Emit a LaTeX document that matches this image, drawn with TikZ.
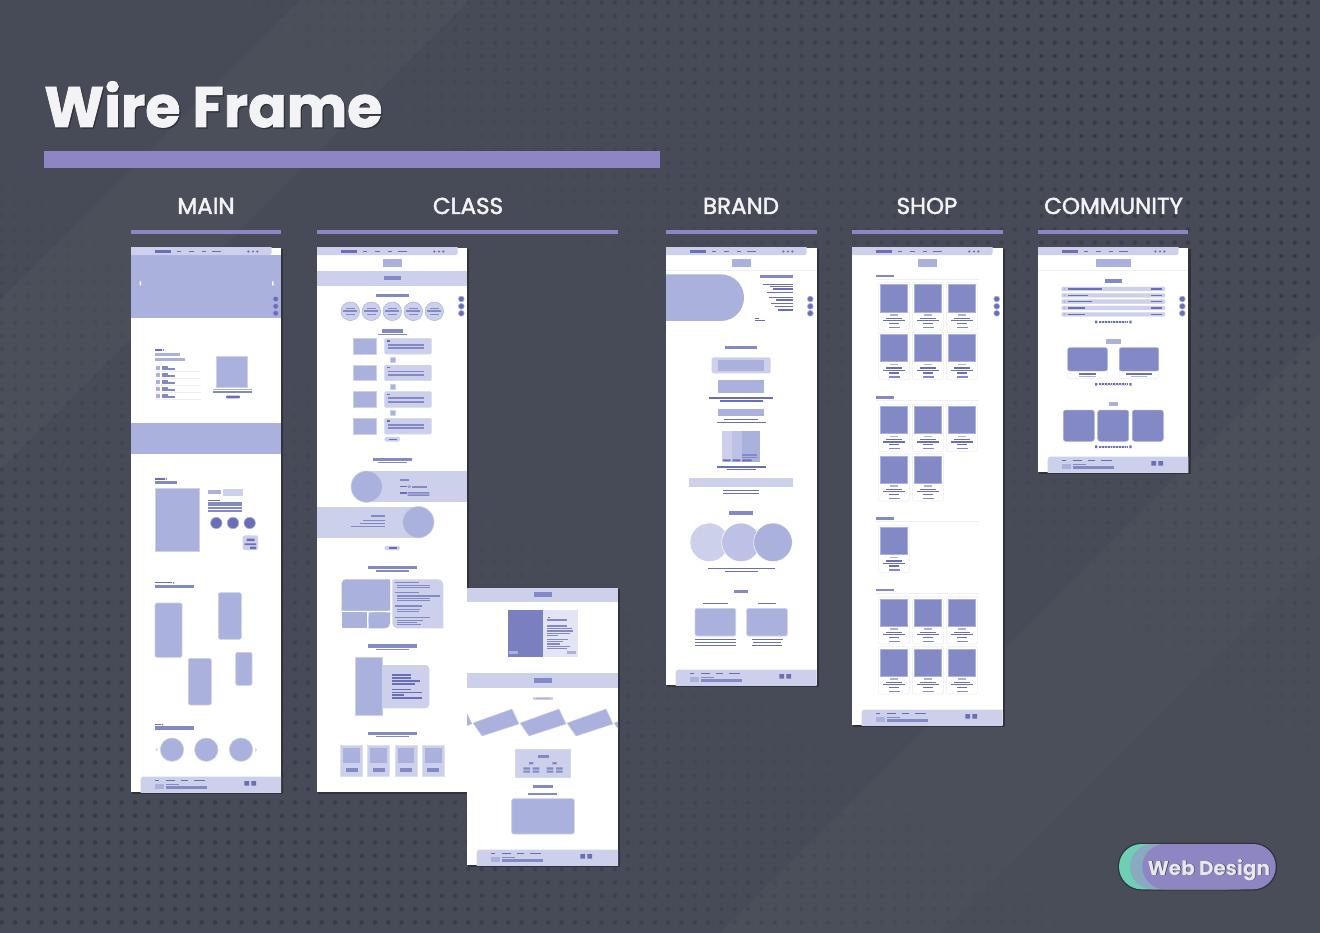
\documentclass[tikz,border=0pt]{standalone}
\usepackage{fontspec}
\setmainfont{Poppins}
\newfontfamily\labelfont[FakeBold=2]{Poppins}
\newfontfamily\headfont[BoldFeatures={FakeBold=1.5}]{Poppins}
\usetikzlibrary{calc}

\definecolor{bgc}{HTML}{474B57}
\definecolor{dotc}{HTML}{363943}
\definecolor{shadowc}{HTML}{30333B}
\definecolor{accent}{HTML}{8E86C2}
\definecolor{lavA}{HTML}{CDD0EA}
\definecolor{lavAB}{HTML}{BCC1E5}
\definecolor{lavB}{HTML}{AAB1DC}
\definecolor{lavC}{HTML}{8389C5}
\definecolor{lavD}{HTML}{7A7FBF}
\definecolor{ink}{HTML}{6A6FB5}
\definecolor{paleP}{HTML}{E3E5F4}
\definecolor{faint}{HTML}{ECEEF8}
\definecolor{titlec}{HTML}{F3F3F5}
\definecolor{teal}{HTML}{6FCFB4}
\definecolor{tealmix}{HTML}{88ABC2}
\definecolor{badgetext}{HTML}{E8E6EE}

% thin text bar: [colour]{x from}{x to}{y centre}
\newcommand{\hb}[4][ink]{\fill[#1] (#2,#4-0.65) rectangle (#3,#4+0.65);}

% page sheet with drop shadow: left top right bottom
\newcommand{\wfpage}[4]{%
  \fill[shadowc] (#1+1.2,#2+1.2) rectangle (#3+2.4,#4+2.4);
  \fill[white] (#1,#2) rectangle (#3,#4);
}

% navigation bar at the top of a page: left x
\newcommand{\wfnav}[1]{%
  \fill[lavA,rounded corners=2.5pt] (#1-6,242) rectangle (#1+140.7,255.2);
  \fill[ink] (#1+24,250) rectangle (#1+40,253);
  \hb{#1+45.7}{#1+50}{251.5}
  \hb{#1+58.3}{#1+62.7}{251.5}
  \hb{#1+71}{#1+75.3}{251.5}
  \hb{#1+81}{#1+89.7}{251.5}
  \fill[ink] (#1+117.3,251.5) circle (1.2) (#1+122,251.5) circle (1.2) (#1+126.3,251.5) circle (1.2);
}

% floating quick-menu dots: centre x
\newcommand{\wfside}[1]{%
  \foreach \yy in {299,306.3,313.3}{\fill[ink,draw=lavB,line width=0.6pt] (#1,\yy) circle (2.9);}
}

% footer block: left x, right x, bottom y
\newcommand{\wffoot}[3]{%
  \fill[lavA,rounded corners=3pt] (#1+9.7,#3-15.5) rectangle (#2+6,#3+6);
  \hb{#1+24}{#1+28.3}{#3-11.3}
  \hb{#1+35}{#1+44}{#3-11.3}
  \hb{#1+50}{#1+57}{#3-11.3}
  \hb{#1+63.3}{#1+73.7}{#3-11.3}
  \fill[lavB] (#1+24,#3-8.3) rectangle (#1+32.7,#3-3);
  \hb[lavC]{#1+35}{#1+48.3}{#3-7.3}
  \fill[lavC] (#1+35,#3-5.7) rectangle (#1+75.7,#3-3.5);
  \fill[ink] (#1+113.3,#3-11) rectangle (#1+118,#3-6.3) (#1+120.3,#3-11) rectangle (#1+125,#3-6.3);
}

% product card of the shop page: left x, top y
\newcommand{\shopcard}[2]{%
  \draw[faint,fill=white,line width=0.6pt,rounded corners=1.5pt] (#1,#2) rectangle (#1+31.3,#2+47.3);
  \fill[lavC,draw=lavB,line width=0.4pt] (#1+2,#2+2) rectangle (#1+29.3,#2+29.3);
  \hb[lavB]{#1+11.7}{#1+20}{#2+32.3}
  \fill[ink] (#1+8,#2+34.9) rectangle (#1+24,#2+36.3);
  \hb{#1+5}{#1+26.7}{#2+37.9}
  \fill[ink] (#1+10.7,#2+40) rectangle (#1+20.7,#2+41.4);
  \hb[lavC]{#1+10.7}{#1+21.7}{#2+44.7}
}

% category heading of the shop page: top y
\newcommand{\shoplabel}[1]{%
  \fill[lavC] (875.7,#1) rectangle (894.3,#1+2.4);
  \fill[faint] (875.7,#1+3.6) rectangle (979.3,#1+4.2);
}

% pagination strip of the community page: centre y
\newcommand{\pager}[1]{%
  \fill[ink] (1095,#1-1.3) rectangle (1097.4,#1+1.3) (1129.3,#1-1.3) rectangle (1131.7,#1+1.3);
  \fill[ink] (1099,#1-1.1) rectangle (1128,#1+1.1);
  \foreach \k in {0,...,9}{\fill[lavA] (1101.2+\k*2.8,#1-1.2) rectangle (1101.8+\k*2.8,#1+1.2);}
}

\begin{document}
\begin{tikzpicture}[x=1pt,y=-1pt]
\useasboundingbox (0,0) rectangle (1320,933);

% ---------- backdrop ----------
\fill[bgc] (0,0) rectangle (1320,933);
\foreach \i in {0,...,98}{
  \foreach \j in {0,...,69}{
    \pgfmathsetmacro\op{min(0.85,max(0,abs(\i/98-\j/69)*1.5-0.22))}
    \ifdim\op pt>0.03pt
      \fill[dotc,opacity=\op] (1.7+\i*13.33,2.7+\j*13.33) circle (2.3);
    \fi
  }
}
\fill[white,opacity=0.022] (0,300) -- (300,0) -- (470,0) -- (0,470) -- cycle;
\fill[white,opacity=0.022] (720,933) -- (1320,333) -- (1320,555) -- (942,933) -- cycle;
\fill[white,opacity=0.012] (942,933) -- (1320,555) -- (1320,933) -- cycle;

% ---------- heading ----------
\node[anchor=base west,inner sep=0pt,font=\headfont\bfseries\fontsize{57}{57}\selectfont,text=shadowc]
  (titleshadow) at (45.3,128.3) {Wire Frame};
\node[anchor=base west,inner sep=0pt,font=\headfont\bfseries\fontsize{57}{57}\selectfont,text=titlec]
  (title) at (44,127) {Wire Frame};
\fill[accent] (44,151) rectangle (660,168);

\tikzset{seclabel/.style={anchor=base,inner sep=0pt,font=\labelfont\fontsize{23}{23}\selectfont,text=titlec}}
\node[seclabel] (lmain) at (206,214) {MAIN};
\node[seclabel] (lclass) at (468,214) {CLASS};
\node[seclabel] (lbrand) at (741,214) {BRAND};
\node[seclabel] (lshop) at (927,214) {SHOP};
\node[seclabel] (lcomm) at (1113.5,214) {COMMUNITY};
\fill[accent] (131,230) rectangle (281,234.3);
\fill[accent] (317,230) rectangle (618,234.3);
\fill[accent] (666,230) rectangle (816.5,234.3);
\fill[accent] (852,230) rectangle (1002.5,234.3);
\fill[accent] (1038,230) rectangle (1188.3,234.3);

% ================= MAIN =================
\wfpage{131}{248}{281}{792}
\begin{scope}
\clip (131,248) rectangle (281,792);
\fill[lavB] (131,255) rectangle (281,318.3);
\wfnav{131}
\fill[white] (139.5,281.3) rectangle (141.2,285.3) (272,281.3) rectangle (273.7,285.3);
\wfside{275.7}
\hb{155}{162}{350}
\fill[ink] (163.4,350) circle (0.9);
\fill[lavB] (155,352.7) rectangle (180,355.7);
\fill[lavB] (155,357.7) rectangle (185,360.7);
\foreach \yy in {368,375,382,389,396}{
  \fill[lavB] (156,\yy-1.8) rectangle (159.5,\yy+1.7);
  \hb[lavC]{162}{168}{\yy-1}
  \hb[lavC]{162}{175}{\yy+1}
  \fill[faint] (155,\yy+3.2) rectangle (201,\yy+3.7);
}
\fill[lavB,draw=lavA,line width=0.6pt] (216,356) rectangle (247.3,387);
\fill[lavB] (213,389) rectangle (252,390.3);
\fill[lavC] (213,391) rectangle (252,392.5);
\fill[ink,rounded corners=1pt] (226,395.7) rectangle (240,398.3);
\fill[lavB] (131,423.3) rectangle (281,454.3);
\hb{155}{165}{479}
\fill[ink] (166.3,479) circle (0.9);
\fill[lavC] (155,481.3) rectangle (177.3,484.3);
\fill[lavB,draw=lavA,line width=0.6pt] (155,488.3) rectangle (199.3,551);
\fill[lavB] (208,490) rectangle (220.7,494.3);
\fill[lavA] (223,488.7) rectangle (243.3,495.7);
\hb{208}{220}{500.2}
\foreach \yy in {502.6,505.3,508,510.7}{\fill[lavC] (208,\yy-0.9) rectangle (242.3,\yy+0.9);}
\foreach \xx in {216.3,233,249.7}{\fill[ink,draw=lavB,line width=0.6pt] (\xx,523) circle (5.7);}
\fill[lavA,rounded corners=1.5pt] (242.7,535.3) rectangle (258,550);
\fill[ink] (246.7,538.7) rectangle (254.7,541) (244.7,543.3) rectangle (256,545) (250,546.7) rectangle (256,549);
\hb{155}{172.3}{582.8}
\fill[ink] (173.6,582.8) circle (0.9);
\fill[lavC] (155,585) rectangle (193.7,588.3);
\foreach \a/\b/\c/\d in {155/603/182/657.3, 218.3/592.7/241.3/639.3, 188.3/658.3/211.3/705, 235.7/652.3/252/685.3}
  {\fill[lavB,draw=lavA,line width=0.6pt,rounded corners=2pt] (\a,\b) rectangle (\c,\d);}
\hb{155}{161}{724.5}
\fill[ink] (162.4,724.5) circle (0.9);
\fill[lavC] (155,726.3) rectangle (193.7,729.7);
\foreach \xx in {172,206.3,241}{\fill[lavB,draw=lavA,line width=0.6pt] (\xx,749.7) circle (11.7);}
\fill[lavA] (157.3,747.7) -- (155.6,749.7) -- (157.3,751.7) -- cycle;
\fill[lavA] (255.3,747.7) -- (257,749.7) -- (255.3,751.7) -- cycle;
\wffoot{131}{281}{792}
\end{scope}

% ================= CLASS (sheet 1) =================
\wfpage{317}{248}{467}{792}
\begin{scope}
\clip (317,248) rectangle (467,792);
\wfnav{317}
\fill[lavB] (382.7,259.3) rectangle (402,266.7);
\fill[lavA] (317,270.7) rectangle (467,285.7);
\fill[lavC] (384,276.3) rectangle (400.7,279.7);
\fill[lavC] (376,294) rectangle (409,297.3);
\foreach \xx in {350.3,371.3,392.3,413.3,434.3}{
  \fill[lavA,draw=lavB,line width=0.5pt] (\xx,311.3) circle (9.3);
  \hb[lavC]{\xx-4.3}{\xx+4.3}{308.2}
  \fill[lavC] (\xx-7,310.5) rectangle (\xx+7,312.2);
  \hb[lavC]{\xx-4.3}{\xx+4.3}{314.8}
}
\wfside{461.3}
\fill[lavC] (381.7,329.3) rectangle (403.3,333.3);
\fill[lavC] (378.3,334.2) rectangle (406.7,335.3);
\foreach \yy in {338.3,365,391.7,418.3}{
  \fill[lavB,draw=lavA,line width=0.5pt] (353.3,\yy) rectangle (376.3,\yy+15.7);
  \fill[lavA,draw=lavB!50,line width=0.5pt,rounded corners=1pt] (384.7,\yy) rectangle (431.3,\yy+15.7);
  \hb{386.7}{390}{\yy+2.7}
  \fill[lavC] (388,\yy+5.5) rectangle (424,\yy+7.3);
  \fill[lavC] (388,\yy+9) rectangle (424,\yy+10.8);
}
\foreach \yy in {357,383.7,410.3}{\fill[lavB,draw=lavA,line width=0.4pt] (390,\yy) rectangle (395,\yy+5);}
\fill[lavA,draw=lavB!50,line width=0.4pt,rounded corners=2pt] (384.7,437) rectangle (400,441.3);
\hb{388.5}{396.5}{439.2}
\fill[lavC] (373.3,458) rectangle (411.7,461.3);
\fill[lavC] (378.3,462) rectangle (406.7,463.3);
% banner with portrait on the left
\fill[lavA] (366.7,471) rectangle (467,502.3);
\fill[lavB,draw=lavA,line width=0.6pt] (366.7,486.7) circle (15.7);
\fill[lavC] (400,479.3) rectangle (409.3,480.7);
\hb{400}{406.7}{486.7}
\fill[lavB,draw=lavC,line width=0.3pt] (409.3,486.7) circle (1.4);
\fill[lavC] (412,485.8) rectangle (426.7,487.6);
\hb{400}{406.7}{493}
\fill[lavC] (407.7,492) rectangle (429.3,493.6) (407.7,494.3) rectangle (429.3,495.9);
% banner with portrait on the right
\fill[lavA] (317,506.7) rectangle (418.3,537.7);
\fill[lavB,draw=lavA,line width=0.6pt] (418.3,522.2) circle (15.7);
\fill[lavC] (370.7,514.7) rectangle (384.7,517);
\hb[lavC]{362.7}{384.7}{520.8}
\hb[lavC]{360}{384.7}{523.8}
\hb[lavC]{350.7}{384.7}{526.5}
\fill[lavA,draw=lavB!50,line width=0.4pt,rounded corners=2pt] (384.7,546) rectangle (400,550);
\hb{388.5}{396.5}{548}
\fill[lavC] (368.3,566) rectangle (416.7,569.3);
\fill[lavC] (376,570.2) rectangle (409,571.7);
% image grid and text panel
\fill[lavB,rounded corners=4pt] (341.7,579.3) rectangle (390,610.7);
\fill[lavB] (386,579.3) rectangle (390,610.7) (341.7,606) rectangle (390,610.7);
\fill[lavB] (341.7,612.3) rectangle (366.7,628.3);
\fill[lavB,rounded corners=5pt] (368.7,612.3) rectangle (390,628.3);
\fill[lavB] (368.7,612.3) rectangle (390,617) (368.7,612.3) rectangle (373,628.3);
\fill[lavA,rounded corners=5pt] (392.3,579.3) rectangle (443.3,628.3);
\fill[lavA] (392.3,579.3) rectangle (397,584) (438.6,623.6) rectangle (443.3,628.3);
\foreach \xa/\xb/\yy in {395/418.7/582.5, 397.3/430/585.7, 397.3/430/587.7, 395/418.7/592.7, 397.3/440/596, 397.3/430/598.7, 397.3/430/600.7, 395/422.3/606, 397.3/420/609.3, 397.3/418.7/611.7, 395/430/617.3, 397.3/423.3/620.3, 397.3/417.3/622.7, 397.3/421/624.7}
  {\hb[lavC]{\xa}{\xb}{\yy}}
\fill[lavC] (368.3,644.3) rectangle (416.7,647.7);
\fill[lavC] (376,648.7) rectangle (409,650);
% tall picture with caption panel
\fill[lavA,rounded corners=4pt] (376,665) rectangle (429.3,708.3);
\fill[lavB,draw=lavA,line width=0.5pt] (355,657.7) rectangle (382.7,715);
\foreach \xb/\yy in {410.7/675, 410.7/677.7, 420/681, 415/684, 410.7/689.3, 421.7/692.3, 404.3/695, 421.7/698}
  {\fill[ink] (392,\yy-0.8) rectangle (\xb,\yy+0.8);}
\fill[lavC] (368.3,731.7) rectangle (416.7,735);
\fill[lavC] (376,736) rectangle (409,737.3);
\foreach \xx in {340.7,367.7,395,422.3}{
  \fill[lavA,draw=lavB!40,line width=0.5pt] (\xx,745) rectangle (\xx+22,776);
  \fill[lavB] (\xx+2.7,748.3) rectangle (\xx+19.3,763.3);
  \fill[lavC] (\xx+5,768.3) rectangle (\xx+17,771.7);
}
\end{scope}

% ================= CLASS (sheet 2) =================
\wfpage{467}{588}{618}{865}
\begin{scope}
\clip (467,588) rectangle (618,865);
\fill[lavA] (467,587) rectangle (618,602.3);
\fill[lavC] (534.3,592.3) rectangle (551.7,596.7);
\fill[lavD] (507.7,610) rectangle (542.7,657);
\fill[lavB] (509.3,651) rectangle (518.3,654.3);
\fill[paleP] (542.7,610) rectangle (578.3,657);
\hb{547.7}{550}{617.5}
\fill[lavC] (546.7,619) rectangle (566.7,621.3);
\foreach \yy/\xe in {626/566.7, 628.7/571.7, 631/573.3, 633.3/570, 635.7/558.3, 639.3/568.3, 641.7/563.3, 644/560, 646.3/570, 648.7/566.7}
  {\hb[lavC]{546.7}{\xe}{\yy}}
\fill[lavB] (566.7,651) rectangle (575.7,654.3);
\fill[lavA] (467,672.7) rectangle (618,688);
\fill[lavC] (534.3,678.3) rectangle (551.7,682.7);
\fill[lavA] (533,696.7) rectangle (552.7,700.3);
\fill[lavB] (536,698) rectangle (550,699.2);
\foreach \s in {-47,0,47,94,141}
  {\fill[lavB,draw=lavA,line width=0.5pt] (473+\s,723) -- (512+\s,709) -- (519+\s,724) -- (482+\s,736) -- cycle;}
\fill[lavA,draw=lavB!50,line width=0.4pt] (515,749.3) rectangle (570,777.3);
\fill[lavC] (537.7,755) rectangle (548.7,758.3);
\fill[lavC] (529,762) rectangle (533.3,764.3) (552.3,762) rectangle (556.7,764.3);
\foreach \xa/\xb in {523.3/530, 532.7/539.3, 546.7/553.3, 556/562.7}
  {\fill[lavC] (\xa,767.3) rectangle (\xb,769.5) (\xa,770.5) rectangle (\xb,772.7);}
\fill[lavC] (533.3,785) rectangle (552.7,788.3);
\fill[lavC] (528.3,792.7) rectangle (557.3,794.5);
\fill[lavB,draw=lavA,line width=0.6pt,rounded corners=2pt] (511.7,798.7) rectangle (574.3,834);
\wffoot{467}{618}{865}
\end{scope}

% ================= BRAND =================
\wfpage{666}{248}{816.5}{685}
\begin{scope}
\clip (666,248) rectangle (816.5,685);
\wfnav{666}
\fill[lavB] (731.7,259) rectangle (750.7,266.7);
\fill[faint] (666,269.8) rectangle (816.5,270.3);
\fill[lavB,rounded corners=23.3pt] (620,274.3) rectangle (744,321);
\fill[lavC] (760,275) rectangle (792.7,278.3);
\foreach \xa/\yy in {763.3/284.3, 770/286.7, 773.3/289, 766.7/292.3, 769.3/297.3, 776/300, 771/303.3, 775.3/306.7, 778.3/310}
  {\hb{\xa}{792.7}{\yy}}
\hb{755}{758.7}{318.2}
\hb{755}{764.7}{320.5}
\wfside{810.3}
\fill[lavC] (725.3,346) rectangle (757,349.3);
\fill[lavA,rounded corners=1.5pt] (711.7,357.3) rectangle (770.7,373.3);
\fill[lavB] (718.3,360) rectangle (764,371);
\fill[lavB] (718.3,380) rectangle (764,393.3);
\hb{709.3}{773.3}{398}
\hb{719.7}{763}{401}
\fill[lavB] (718.3,409.3) rectangle (764,415.7);
\hb{724.3}{758.3}{419.7}
\hb{717}{765.7}{422.4}
\fill[lavA] (722.3,431) rectangle (741.7,462);
\fill[lavAB] (731.7,431) rectangle (750,462);
\fill[lavB] (741.7,431) rectangle (760,462);
\hb[lavC]{742.3}{757.3}{455}
\hb[lavC]{742.3}{757.3}{457.4}
\fill[ink] (723,459.3) rectangle (730.7,461.3) (732.7,459.3) rectangle (740.3,461.3) (742.3,459.3) rectangle (751.7,461.3);
\hb{716.7}{766}{467}
\hb{726.7}{755.7}{469.7}
\fill[lavA] (689.3,478.3) rectangle (792.7,486.7);
\hb{723.3}{759.3}{490.8}
\hb{723.3}{759.3}{493.8}
\fill[lavC] (729,511) rectangle (753.3,515);
\fill[lavA,draw=white,line width=0.5pt] (709.3,542.3) circle (19.3);
\fill[lavAB,draw=white,line width=0.5pt] (741,542.3) circle (19.3);
\fill[lavB,draw=white,line width=0.5pt] (773,542.3) circle (19.3);
\hb{707.7}{775}{568.2}
\hb{725}{757.7}{571.7}
\fill[lavC] (734,590) rectangle (748.3,593.3);
\hb{702.7}{728.3}{603.3}
\hb{758}{776.3}{603.3}
\fill[lavB,draw=lavA,line width=0.6pt,rounded corners=2pt] (695,608.3) rectangle (735.7,636);
\fill[lavB,draw=lavA,line width=0.6pt,rounded corners=2pt] (746.7,608.3) rectangle (787.3,636);
\foreach \yy in {639.3,642.3,645.3}{\hb{695.3}{735.7}{\yy}}
\hb{751.7}{782.7}{639.3}
\hb{753.3}{780.7}{642.3}
\hb{751.7}{782}{645.3}
\wffoot{666}{816.5}{685}
\end{scope}

% ================= SHOP =================
\wfpage{852}{248}{1002.5}{725}
\begin{scope}
\clip (852,248) rectangle (1002.5,725);
\wfnav{852}
\fill[lavB] (917.7,259) rectangle (937.3,266.7);
\wfside{996.7}
\shoplabel{275}
\shoplabel{396.3}
\shoplabel{517.3}
\shoplabel{589}
\foreach \yy in {282.7,332.3,404,596.7,646.7}{\foreach \xx in {878.3,912.3,946.3}{\shopcard{\xx}{\yy}}}
\foreach \xx in {878.3,912.3}{\shopcard{\xx}{453.7}}
\shopcard{878.3}{525.3}
\wffoot{852}{1002.5}{725}
\end{scope}

% ================= COMMUNITY =================
\wfpage{1038}{248}{1188.3}{472}
\begin{scope}
\clip (1038,248) rectangle (1188.3,472);
\wfnav{1038}
\fill[lavB] (1095.7,259) rectangle (1131,266.7);
\fill[faint] (1038,269.8) rectangle (1188.3,270.3);
\wfside{1182.3}
\fill[lavC] (1105,278.7) rectangle (1122,282.7);
\foreach \yy/\xe in {289/1101.7, 295.3/1088.3, 301.7/1091.7, 308/1085, 314.3/1085}{
  \fill[lavA,draw=lavB!50,line width=0.4pt,rounded corners=1pt] (1061.7,\yy-2) rectangle (1165,\yy+2);
  \fill[lavB] (1064.3,\yy) circle (1);
  \hb{1068.3}{\xe}{\yy}
  \hb{1150.7}{1161.7}{\yy}
}
\pager{322}
\fill[lavB] (1106,339.3) rectangle (1120.7,344);
\draw[faint,fill=white,line width=0.6pt,rounded corners=2pt] (1067.7,347.7) rectangle (1107.3,378.7);
\draw[faint,fill=white,line width=0.6pt,rounded corners=2pt] (1119.3,347.7) rectangle (1158.7,378.7);
\fill[lavC,draw=lavB,line width=0.4pt,rounded corners=2pt] (1067.7,347.7) rectangle (1107.3,371);
\fill[lavC,draw=lavB,line width=0.4pt,rounded corners=2pt] (1119.3,347.7) rectangle (1158.7,371);
\fill[ink] (1079,373.3) rectangle (1096,375);
\fill[lavB] (1079,376) rectangle (1096,377);
\fill[ink] (1126,373.3) rectangle (1152,375);
\fill[lavB] (1131,376) rectangle (1147.3,377);
\pager{384.3}
\fill[lavB] (1109,401.7) rectangle (1117.7,406);
\foreach \xx in {1063.3,1097.7,1132.3}
  {\fill[lavC,draw=lavB,line width=0.5pt,rounded corners=2.5pt] (\xx,410) rectangle (\xx+31,441.3);}
\pager{446.7}
\wffoot{1038}{1188.3}{472}
\end{scope}

% ---------- badge ----------
\fill[shadowc,rounded corners=23.5pt] (1117.8,842.8) rectangle (1277,890.5);
\fill[teal,rounded corners=22.6pt] (1119,844) rectangle (1250,889.3);
\fill[tealmix,rounded corners=22.6pt] (1130,844) rectangle (1262,889.3);
\fill[accent,rounded corners=22.6pt] (1142.3,844) rectangle (1275.7,889.3);
\node[anchor=base,inner sep=0pt,font=\bfseries\fontsize{20}{20}\selectfont,text=shadowc]
  (badgeshadow) at (1209.6,875.6) {Web Design};
\node[anchor=base,inner sep=0pt,font=\bfseries\fontsize{20}{20}\selectfont,text=badgetext]
  (badge) at (1209,875) {Web Design};
\end{tikzpicture}
\end{document}
